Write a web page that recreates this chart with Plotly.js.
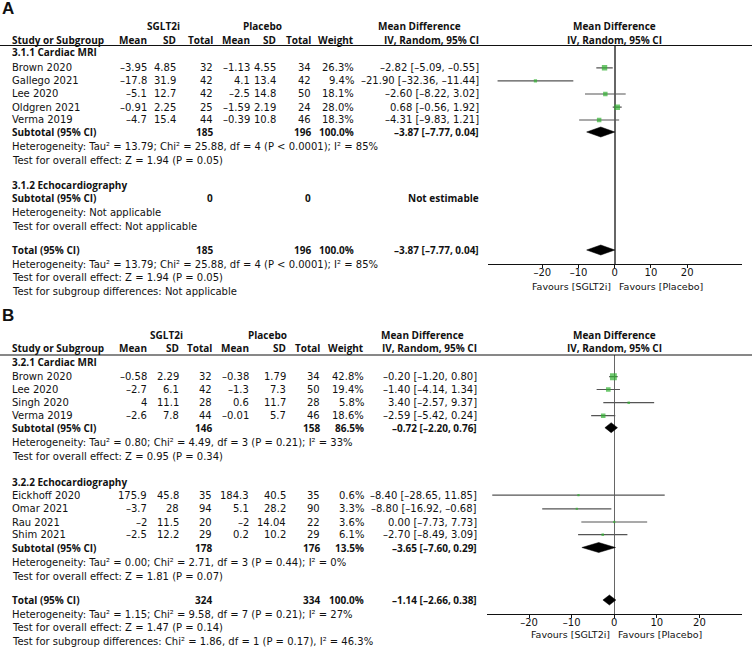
<!DOCTYPE html>
<html><head><meta charset="utf-8">
<script src="https://cdn.plot.ly/plotly-3.0.1.min.js"></script>
<style>html,body{margin:0;padding:0;background:#fff}#chart{width:752px;height:648px}</style>
</head><body><div id="chart"></div>
<script>
// ================= DATA: panel A (3.1) =================
const studiesA = ["Brown 2020", "Gallego 2021", "Lee 2020", "Oldgren 2021", "Verma 2019"];
const sMeanA = [-3.95, -17.8, -5.1, -0.91, -4.7];
const sSdA = [4.85, 31.9, 12.7, 2.25, 15.4];
const sNA = [32, 42, 42, 25, 44];
const pMeanA = [-1.13, 4.1, -2.5, -1.59, -0.39];
const pSdA = [4.55, 13.4, 14.8, 2.19, 10.8];
const pNA = [34, 42, 50, 24, 46];
const weightA = [26.3, 9.4, 18.1, 28.0, 18.3];
const mdA = [-2.82, -21.90, -2.60, 0.68, -4.31];
const loA = [-5.09, -32.36, -8.22, -0.56, -9.83];
const hiA = [-0.55, -11.44, 3.02, 1.92, 1.21];
const subA = {sN: 185, pN: 196, w: 100.0, md: -3.87, lo: -7.77, hi: 0.04};
const totA = {sN: 185, pN: 196, w: 100.0, md: -3.87, lo: -7.77, hi: 0.04};
const textA = {
  g1: "3.1.1 Cardiac MRI",
  g1het: "Heterogeneity: Tau² = 13.79; Chi² = 25.88, df = 4 (P < 0.0001); I² = 85%",
  g1eff: "Test for overall effect: Z = 1.94 (P = 0.05)",
  g2: "3.1.2 Echocardiography",
  g2het: "Heterogeneity: Not applicable",
  g2eff: "Test for overall effect: Not applicable",
  tothet: "Heterogeneity: Tau² = 13.79; Chi² = 25.88, df = 4 (P < 0.0001); I² = 85%",
  toteff: "Test for overall effect: Z = 1.94 (P = 0.05)",
  sub: "Test for subgroup differences: Not applicable"
};

// ================= DATA: panel B (3.2) =================
const studiesB1 = ["Brown 2020", "Lee 2020", "Singh 2020", "Verma 2019"];
const sMeanB1 = [-0.58, -2.7, 4, -2.6];
const sSdB1 = [2.29, 6.1, 11.1, 7.8];
const sNB1 = [32, 42, 28, 44];
const pMeanB1 = [-0.38, -1.3, 0.6, -0.01];
const pSdB1 = [1.79, 7.3, 11.7, 5.7];
const pNB1 = [34, 50, 28, 46];
const weightB1 = [42.8, 19.4, 5.8, 18.6];
const mdB1 = [-0.20, -1.40, 3.40, -2.59];
const loB1 = [-1.20, -4.14, -2.57, -5.42];
const hiB1 = [0.80, 1.34, 9.37, 0.24];
const subB1 = {sN: 146, pN: 158, w: 86.5, md: -0.72, lo: -2.20, hi: 0.76};

const studiesB2 = ["Eickhoff 2020", "Omar 2021", "Rau 2021", "Shim 2021"];
const sMeanB2 = [175.9, -3.7, -2, -2.5];
const sSdB2 = [45.8, 28, 11.5, 12.2];
const sNB2 = [35, 94, 20, 29];
const pMeanB2 = [184.3, 5.1, -2, 0.2];
const pSdB2 = [40.5, 28.2, 14.04, 10.2];
const pNB2 = [35, 90, 22, 29];
const weightB2 = [0.6, 3.3, 3.6, 6.1];
const mdB2 = [-8.40, -8.80, 0.00, -2.70];
const loB2 = [-28.65, -16.92, -7.73, -8.49];
const hiB2 = [11.85, -0.68, 7.73, 3.09];
const subB2 = {sN: 178, pN: 176, w: 13.5, md: -3.65, lo: -7.60, hi: 0.29};
const totB = {sN: 324, pN: 334, w: 100.0, md: -1.14, lo: -2.66, hi: 0.38};
const textB = {
  g1: "3.2.1 Cardiac MRI",
  g1het: "Heterogeneity: Tau² = 0.80; Chi² = 4.49, df = 3 (P = 0.21); I² = 33%",
  g1eff: "Test for overall effect: Z = 0.95 (P = 0.34)",
  g2: "3.2.2 Echocardiography",
  g2het: "Heterogeneity: Tau² = 0.00; Chi² = 2.71, df = 3 (P = 0.44); I² = 0%",
  g2eff: "Test for overall effect: Z = 1.81 (P = 0.07)",
  tothet: "Heterogeneity: Tau² = 1.15; Chi² = 9.58, df = 7 (P = 0.21); I² = 27%",
  toteff: "Test for overall effect: Z = 1.47 (P = 0.14)",
  sub: "Test for subgroup differences: Chi² = 1.86, df = 1 (P = 0.17), I² = 46.3%"
};
const tickVals = [-20, -10, 0, 10, 20];

// ================= LAYOUT (pixel positions, styles) =================
const W = 752, H = 648;
const FONT = "DejaVu Sans, Verdana, sans-serif";
const BFONT = "Open Sans, Noto Sans, sans-serif";
const FS = 10;
const GREEN = "#32b032";
const PX = x => x / W;
const PY = y => 1 - y / H;

const colA = {name: 11, sMean: 148, sSd: 177, sN: 213.5, pMean: 250.5, pSd: 277, pN: 312, w: 354.5, md: 479.5};
const colB = {name: 11, sMean: 147.5, sSd: 179.5, sN: 213, pMean: 249.5, pSd: 286.5, pN: 320.5, w: 364.5, md: 478.5};

const posA = {
  label: 9, h1: 26, h2: 40, line: 45.5, g1: 52, rows: [67.8, 80.8, 94, 107.2, 120], sub: 132,
  het1: 146.5, eff1: 160.3, g2: 185, sub2: 198.3, het2: 212.3, eff2: 226,
  tot: 250, tothet: 264.3, toteff: 277.7, subtest: 291.7, axis: 263.5, fav: 286,
  mdHeadLeft: 377, xDom: [488, 741.5], xRange: [-35, 35], sgltC: 163, placC: 262
};
const posB = {
  label: 316, h1: 335, h2: 348.3, line: 355, g1: 361.7, rows: [376.7, 389.5, 402.7, 415.7], sub: 427.7,
  het1: 442.7, eff1: 456.7, g2: 481.7, rows2: [495.2, 508.8, 522, 534.7], sub2: 547.5,
  het2: 562.7, eff2: 576, tot: 600, tothet: 614.3, toteff: 627.7, subtest: 641.7, axis: 614, fav: 634,
  mdHeadLeft: 380, xDom: [486.5, 742], xRange: [-30, 30], sgltC: 166, placC: 267.5
};

// ================= helpers =================
const m = s => String(s).replace(/-/g, "\u2013");
const f2 = v => m(v.toFixed(2));
const ci = (md, lo, hi) => `${f2(md)} [${f2(lo)}, ${f2(hi)}]`;
const pct = v => v.toFixed(1) + "%";
const ann = [];
function T(text, x, y, xanchor, opt) {
  opt = opt || {};
  ann.push({
    text: opt.bold ? "<b>" + text + "</b>" : text,
    x: opt.xref ? x : PX(x), y: PY(y),
    xref: opt.xref || "paper", yref: "paper",
    xanchor: xanchor, yanchor: "middle", showarrow: false, borderpad: 0,
    xshift: opt.xshift || 0,
    font: {family: opt.family || (opt.bold ? BFONT : FONT), size: opt.size || FS, color: "#111"}
  });
}

function header(col, pos, xr) {
  T("SGLT2i", pos.sgltC, pos.h1, "center", {bold: true});
  T("Placebo", pos.placC, pos.h1, "center", {bold: true});
  T("Mean Difference", pos.mdHeadLeft, pos.h1, "left", {bold: true});
  T("Mean Difference", 0, pos.h1, "center", {bold: true, xref: xr});
  T("Study or Subgroup", col.name, pos.h2, "left", {bold: true});
  T("Mean", col.sMean, pos.h2, "right", {bold: true});
  T("SD", col.sSd, pos.h2, "right", {bold: true});
  T("Total", col.sN, pos.h2, "right", {bold: true});
  T("Mean", col.pMean, pos.h2, "right", {bold: true});
  T("SD", col.pSd, pos.h2, "right", {bold: true});
  T("Total", col.pN, pos.h2, "right", {bold: true});
  T("Weight", col.w, pos.h2, "right", {bold: true});
  T("IV, Random, 95% CI", col.md, pos.h2, "right", {bold: true});
  T("IV, Random, 95% CI", 0, pos.h2, "center", {bold: true, xref: xr});
}
function studyRows(col, ys, names, sM, sS, sN, pM, pS, pN, w, md, lo, hi) {
  names.forEach((n, i) => {
    const y = ys[i];
    T(n, col.name, y, "left");
    T(m(sM[i]), col.sMean, y, "right");
    T(m(sS[i]), col.sSd, y, "right");
    T(String(sN[i]), col.sN, y, "right");
    T(m(pM[i]), col.pMean, y, "right");
    T(m(pS[i]), col.pSd, y, "right");
    T(String(pN[i]), col.pN, y, "right");
    T(pct(w[i]), col.w, y, "right");
    T(ci(md[i], lo[i], hi[i]), col.md, y, "right");
  });
}
function summaryRow(col, y, label, s) {
  T(label, col.name, y, "left", {bold: true});
  T(String(s.sN), col.sN, y, "right", {bold: true});
  T(String(s.pN), col.pN, y, "right", {bold: true});
  if (s.w !== null) T(pct(s.w), col.w, y, "right", {bold: true});
  if (s.md !== null) T(ci(s.md, s.lo, s.hi), col.md, y, "right", {bold: true});
}

// ---------- Panel A text ----------
T("A", 1, posA.label, "left", {bold: true, size: 17, family: "Liberation Sans, Arial, sans-serif"});
header(colA, posA, "x");
T(textA.g1, colA.name, posA.g1, "left", {bold: true});
studyRows(colA, posA.rows, studiesA, sMeanA, sSdA, sNA, pMeanA, pSdA, pNA, weightA, mdA, loA, hiA);
summaryRow(colA, posA.sub, "Subtotal (95% CI)", subA);
T(textA.g1het, colA.name, posA.het1, "left");
T(textA.g1eff, colA.name, posA.eff1, "left");
T(textA.g2, colA.name, posA.g2, "left", {bold: true});
summaryRow(colA, posA.sub2, "Subtotal (95% CI)", {sN: 0, pN: 0, w: null, md: null});
T("Not estimable", colA.md, posA.sub2, "right", {bold: true});
T(textA.g2het, colA.name, posA.het2, "left");
T(textA.g2eff, colA.name, posA.eff2, "left");
summaryRow(colA, posA.tot, "Total (95% CI)", totA);
T(textA.tothet, colA.name, posA.tothet, "left");
T(textA.toteff, colA.name, posA.toteff, "left");
T(textA.sub, colA.name, posA.subtest, "left");
T("Favours [SGLT2i]", 0, posA.fav, "right", {xref: "x", xshift: -3, size: 9.5});
T("Favours [Placebo]", 0, posA.fav, "left", {xref: "x", xshift: 3, size: 9.5});

// ---------- Panel B text ----------
T("B", 1, posB.label, "left", {bold: true, size: 17, family: "Liberation Sans, Arial, sans-serif"});
header(colB, posB, "x2");
T(textB.g1, colB.name, posB.g1, "left", {bold: true});
studyRows(colB, posB.rows, studiesB1, sMeanB1, sSdB1, sNB1, pMeanB1, pSdB1, pNB1, weightB1, mdB1, loB1, hiB1);
summaryRow(colB, posB.sub, "Subtotal (95% CI)", subB1);
T(textB.g1het, colB.name, posB.het1, "left");
T(textB.g1eff, colB.name, posB.eff1, "left");
T(textB.g2, colB.name, posB.g2, "left", {bold: true});
studyRows(colB, posB.rows2, studiesB2, sMeanB2, sSdB2, sNB2, pMeanB2, pSdB2, pNB2, weightB2, mdB2, loB2, hiB2);
summaryRow(colB, posB.sub2, "Subtotal (95% CI)", subB2);
T(textB.g2het, colB.name, posB.het2, "left");
T(textB.g2eff, colB.name, posB.eff2, "left");
summaryRow(colB, posB.tot, "Total (95% CI)", totB);
T(textB.tothet, colB.name, posB.tothet, "left");
T(textB.toteff, colB.name, posB.toteff, "left");
T(textB.sub, colB.name, posB.subtest, "left");
T("Favours [SGLT2i]", 0, posB.fav, "right", {xref: "x2", xshift: -3, size: 9.5});
T("Favours [Placebo]", 0, posB.fav, "left", {xref: "x2", xshift: 3, size: 9.5});

// ================= traces =================
const traces = [];
function ciTrace(lo, hi, ys, xa, ya) {
  const x = [], y = [];
  lo.forEach((l, i) => { x.push(l, hi[i], null); y.push(ys[i], ys[i], null); });
  traces.push({x, y, xaxis: xa, yaxis: ya, mode: "lines", type: "scatter",
    line: {color: "#555", width: 1.2}, hoverinfo: "skip"});
}
function ptTrace(md, w, ys, xa, ya) {
  traces.push({x: md, y: ys, xaxis: xa, yaxis: ya, mode: "markers", type: "scatter",
    marker: {symbol: "square", color: GREEN, size: w.map(v => Math.max(2.2, 1.05 * Math.sqrt(v))), line: {width: 0}}});
}
function diamondTrace(list, xa, ya) {
  const x = [], y = [], h = 5;
  list.forEach(([s, yy]) => {
    x.push(s.lo, s.md, s.hi, s.md, s.lo, null);
    y.push(yy, yy - h, yy, yy + h, yy, null);
  });
  traces.push({x, y, xaxis: xa, yaxis: ya, mode: "lines", type: "scatter", fill: "toself",
    fillcolor: "#000", line: {color: "#000", width: 0.5}, hoverinfo: "skip"});
}
ciTrace(loA, hiA, posA.rows, "x", "y");
ptTrace(mdA, weightA, posA.rows, "x", "y");
diamondTrace([[subA, posA.sub], [totA, posA.tot]], "x", "y");

ciTrace(loB1.concat(loB2), hiB1.concat(hiB2), posB.rows.concat(posB.rows2), "x2", "y2");
ptTrace(mdB1.concat(mdB2), weightB1.concat(weightB2), posB.rows.concat(posB.rows2), "x2", "y2");
diamondTrace([[subB1, posB.sub], [subB2, posB.sub2], [totB, posB.tot]], "x2", "y2");

function xAxis(pos, anchor) {
  return {
    domain: [PX(pos.xDom[0]), PX(pos.xDom[1])], range: pos.xRange, anchor: anchor,
    showgrid: false, zeroline: true, zerolinecolor: "#666", zerolinewidth: 1.5,
    showline: true, linecolor: "#111", linewidth: 1,
    ticks: "outside", ticklen: 3, tickwidth: 1, tickcolor: "#111",
    tickmode: "array", tickvals: tickVals, ticktext: tickVals.map(v => m(v)),
    ticklabelstandoff: -4,
    tickfont: {family: FONT, size: FS, color: "#111"}, fixedrange: true
  };
}
function yAxis(pos, anchor) {
  return {
    domain: [PY(pos.axis), PY(pos.line)], range: [pos.axis, pos.line], anchor: anchor,
    showgrid: false, zeroline: false, showline: false, showticklabels: false, ticks: "", fixedrange: true
  };
}

const layout = {
  width: W, height: H, margin: {l: 0, r: 0, t: 0, b: 0},
  paper_bgcolor: "#fff", plot_bgcolor: "rgba(0,0,0,0)", showlegend: false,
  font: {family: FONT, size: FS, color: "#111"},
  xaxis: xAxis(posA, "y"), yaxis: yAxis(posA, "x"),
  xaxis2: xAxis(posB, "y2"), yaxis2: yAxis(posB, "x2"),
  shapes: [
    {type: "line", xref: "paper", yref: "paper", x0: 0, x1: 1, y0: PY(posA.line), y1: PY(posA.line), line: {color: "#111", width: 1}},
    {type: "line", xref: "paper", yref: "paper", x0: 0, x1: 1, y0: PY(posB.line), y1: PY(posB.line), line: {color: "#111", width: 1}}
  ],
  annotations: ann
};
Plotly.newPlot("chart", traces, layout, {displayModeBar: false, staticPlot: true});
</script></body></html>
